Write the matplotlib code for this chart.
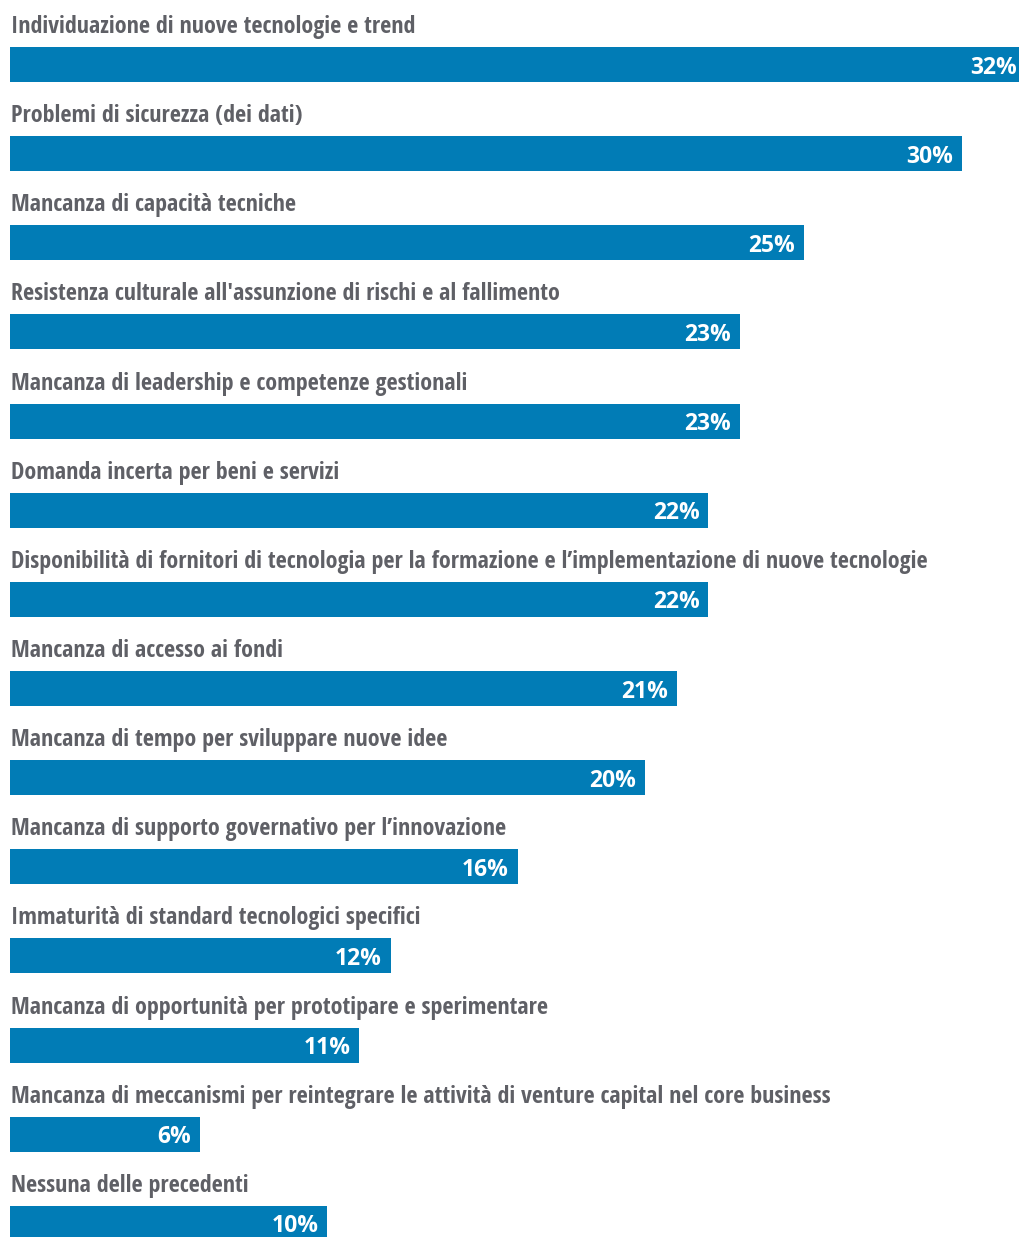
import matplotlib.pyplot as plt

labels = [
    "Individuazione di nuove tecnologie e trend",
    "Problemi di sicurezza (dei dati)",
    "Mancanza di capacità tecniche",
    "Resistenza culturale all'assunzione di rischi e al fallimento",
    "Mancanza di leadership e competenze gestionali",
    "Domanda incerta per beni e servizi",
    "Disponibilità di fornitori di tecnologia per la formazione e l’implementazione di nuove tecnologie",
    "Mancanza di accesso ai fondi",
    "Mancanza di tempo per sviluppare nuove idee",
    "Mancanza di supporto governativo per l’innovazione",
    "Immaturità di standard tecnologici specifici",
    "Mancanza di opportunità per prototipare e sperimentare",
    "Mancanza di meccanismi per reintegrare le attività di venture capital nel core business",
    "Nessuna delle precedenti",
]
values = [32, 30, 25, 23, 23, 22, 22, 21, 20, 16, 12, 11, 6, 10]

BAR = "#017cb6"
GREY = "#5f6066"

W, H = 1019, 1237
fig = plt.figure(figsize=(W / 100, H / 100), dpi=100)
ax = fig.add_axes([10 / W, 0, 1 - 10 / W, 1])

# one row = label line + bar, ~89 px tall
row = 89.15
top = 64.5
ax.set_xlim(0, 31.78)
ax.set_ylim((H - top) / row, -top / row)
ax.axis("off")

bh = 35 / row
ys = list(range(len(values)))
ax.barh(ys, values, height=bh, color=BAR)

for y, lab, v in zip(ys, labels, values):
    ax.text(0.03, y - bh / 2 - 14 / row, lab, ha="left", va="baseline",
            fontsize=17.25, fontweight="bold", family="Open Sans Condensed",
            color=GREY)
    ax.annotate(f"{v}%", xy=(v, y), xytext=(-9, 0), textcoords="offset pixels",
                ha="right", va="center_baseline", fontsize=16.5, fontweight="bold",
                family="Open Sans", color="white", annotation_clip=False)

fig.savefig("out.png", dpi=100)
